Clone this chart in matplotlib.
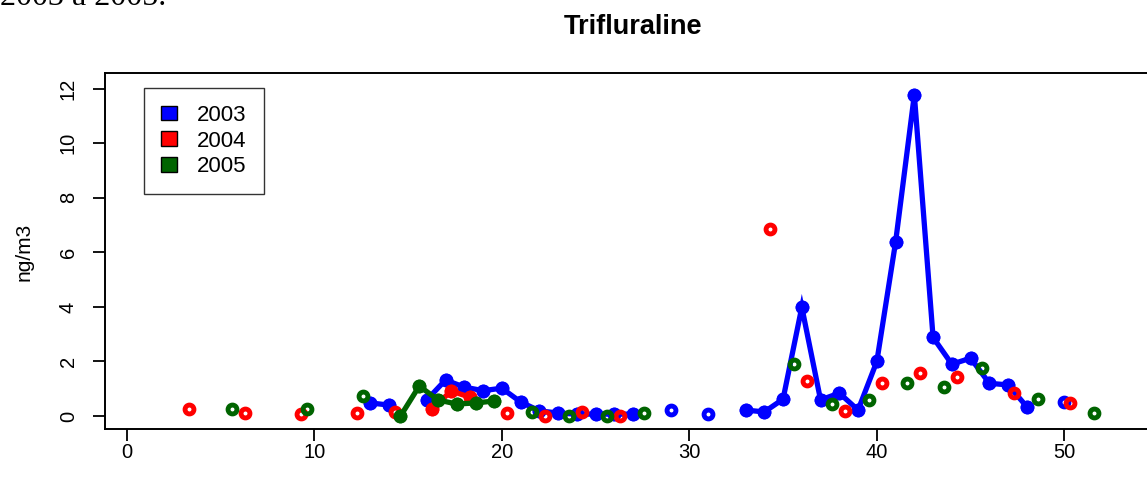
import numpy as np
import matplotlib
matplotlib.use("Agg")
import matplotlib.pyplot as plt
from matplotlib.patches import Patch

plt.rcParams["font.family"] = ["Liberation Sans", "DejaVu Sans"]

# ==============================
# DATA (week of year, ng/m3)
# ==============================
weeks_2003 = [13, 14, 16, 17, 18, 19, 20, 21, 22, 23, 24, 25, 26, 27, 29, 31,
              33, 34, 35, 36, 37, 38, 39, 40, 41, 42, 43, 44, 45, 46, 47, 48, 50]
vals_2003 = [0.48, 0.40, 0.59, 1.32, 1.06, 0.93, 1.02, 0.52, 0.19, 0.11, 0.07, 0.07,
             0.07, 0.07, 0.22, 0.07, 0.22, 0.15, 0.62, 3.99, 0.59, 0.84, 0.22, 2.00,
             6.37, 11.77, 2.88, 1.90, 2.12, 1.20, 1.14, 0.34, 0.51]

weeks_2004 = [3, 6, 9, 12, 14, 16, 17, 18, 20, 22, 24, 26, 34, 36, 38, 40, 42, 44, 47, 50]
vals_2004 = [0.26, 0.11, 0.07, 0.10, 0.15, 0.26, 0.92, 0.69, 0.11, 0.00, 0.15, 0.00,
             6.84, 1.28, 0.18, 1.20, 1.57, 1.43, 0.83, 0.47]

weeks_2005 = [5, 9, 12, 14, 15, 16, 17, 18, 19, 21, 23, 25, 27, 35, 37, 39, 41, 43, 45, 48, 51]
vals_2005 = [0.26, 0.26, 0.73, 0.00, 1.10, 0.59, 0.44, 0.48, 0.55, 0.15, 0.00, 0.00,
             0.11, 1.90, 0.44, 0.59, 1.20, 1.06, 1.76, 0.62, 0.11]

years = ["2003", "2004", "2005"]
colors = ["#0000FF", "#FF0000", "#006400"]
shifts = [0.0, 0.3, 0.6]   # small horizontal offset per year


def with_gaps(weeks, vals, shift):
    """Insert NaN where weeks are missing so the line breaks there."""
    xs, ys = [], []
    prev = None
    for w, v in zip(weeks, vals):
        if prev is not None and w - prev > 1:
            xs.append(np.nan)
            ys.append(np.nan)
        xs.append(w + shift)
        ys.append(v)
        prev = w
    return xs, ys


def connected(weeks):
    """True for points that have a neighbour week (line runs through them)."""
    w = np.array(weeks)
    prev_ok = np.r_[False, np.diff(w) == 1]
    next_ok = np.r_[np.diff(w) == 1, False]
    return prev_ok | next_ok


# ==============================
# FIGURE
# ==============================
W, H = 1147, 479
fig = plt.figure(figsize=(W / 100, H / 100), dpi=100)

# plot box in pixels: left 105, right ~1160 (beyond the image), top 73, bottom 429
ax = fig.add_axes([105 / W, (H - 429) / H, (1160 - 105) / W, (429 - 73) / H])

RING_MS, RING_MEW = 6.4, 3.5
series = [(weeks_2003, vals_2003), (weeks_2004, vals_2004), (weeks_2005, vals_2005)]
for (wk, vl), c, s in zip(series, colors, shifts):
    xs, ys = with_gaps(wk, vl, s)
    ax.plot(xs, ys, "-", color=c, lw=3.8, solid_joinstyle="miter", zorder=3)
    ax.plot(xs, ys, "o", color=c, mfc="none", mec=c, ms=RING_MS, mew=RING_MEW, zorder=3)
    m = connected(wk)
    ax.plot(np.array(wk)[m] + s, np.array(vl)[m], "o", color=c,
            ms=RING_MS + RING_MEW, mew=0, zorder=3)

ax.set_xlim(-1.157, 55.1)
ax.set_ylim(-0.475, 12.57)
ax.set_xticks(range(0, 51, 10))
ax.set_yticks(range(0, 13, 2))
ax.tick_params(axis="both", direction="out", length=8.5, width=1.3, labelsize=14.5)
ax.tick_params(axis="x", pad=1.5)
ax.tick_params(axis="y", pad=11)
for lab in ax.get_yticklabels():
    lab.set_rotation(90)
    lab.set_va("center")
for sp in ax.spines.values():
    sp.set_linewidth(1.4)

fig.text(24 / W, 1 - 252 / H, "ng/m3", rotation=90, ha="center", va="center", fontsize=15)
fig.text(633 / W, 1 - 27 / H, "Trifluraline", ha="center", va="center",
         fontsize=19.5, fontweight="bold")

# cut-off caption line from the surrounding document
fig.text(0.0, 1 - 5 / H, "2003 à 2005.", ha="left", va="baseline",
         fontsize=23, family="Liberation Serif")

handles = [Patch(facecolor=c, edgecolor="black", lw=1.0) for c in colors]
leg = ax.legend(handles, years, loc="upper left", bbox_to_anchor=(0.037, 0.958),
                borderaxespad=0, fontsize=16, frameon=True, fancybox=False,
                handlelength=0.75, handleheight=0.62, handletextpad=0.9,
                labelspacing=0.22, borderpad=0.75)
leg.get_frame().set_edgecolor("black")
leg.get_frame().set_linewidth(1.0)

fig.savefig("out.png", dpi=100)
